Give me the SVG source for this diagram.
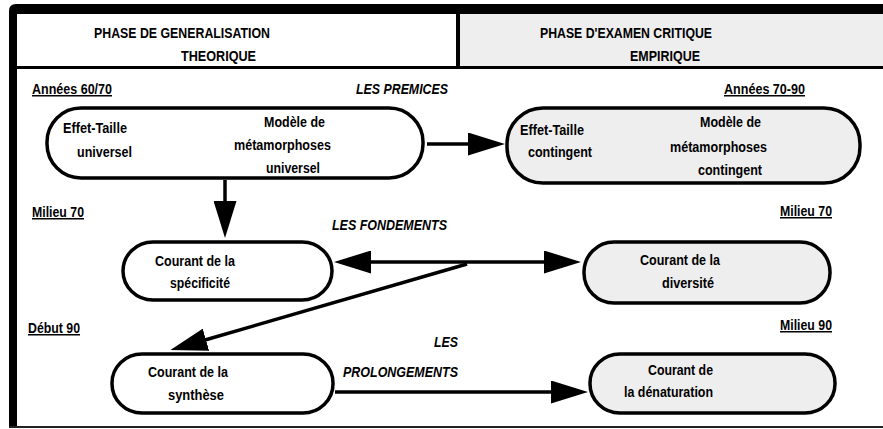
<svg xmlns="http://www.w3.org/2000/svg" width="883" height="429" viewBox="0 0 883 429">
<style>
text{font-family:"Liberation Sans",Arial,sans-serif;font-weight:bold;font-size:15px;fill:#000}
.u{text-decoration:underline}
.i{font-style:italic}
.n{stroke:#000;stroke-width:3.5}
.w{fill:#fff}
.g{fill:#eeeeee}
.c{stroke:#000;stroke-width:3.5;fill:none}
</style>
<defs>
<marker id="ah" viewBox="0 0 37 23" refX="1" refY="11.5" markerWidth="37" markerHeight="23" markerUnits="userSpaceOnUse" orient="auto-start-reverse">
<path d="M0,0 L37,11.5 L0,23 Z" fill="#000"/>
</marker>
</defs>
<rect x="0" y="0" width="883" height="429" fill="#fff"/>
<g id="frame">
<rect x="17" y="14" width="441" height="53" fill="#fff"/>
<rect x="458" y="14" width="425" height="53" fill="#eeeeee"/>
<path d="M9,427 L9,11 Q9,4 16,4 L883,4 L883,14 L17,14 L17,427 Z" fill="#000"/>
<rect x="456" y="14" width="4" height="53" fill="#000"/>
<rect x="17" y="66" width="866" height="3" fill="#000"/>
<rect x="9" y="426" width="874" height="2" fill="#222"/>
<text x="94" y="38" textLength="176" lengthAdjust="spacingAndGlyphs">PHASE DE GENERALISATION</text>
<text x="181" y="61" textLength="75" lengthAdjust="spacingAndGlyphs">THEORIQUE</text>
<text x="540" y="38" textLength="172" lengthAdjust="spacingAndGlyphs">PHASE D'EXAMEN CRITIQUE</text>
<text x="630" y="61" textLength="70" lengthAdjust="spacingAndGlyphs">EMPIRIQUE</text>
</g>
<g id="labels">
<text class="u" x="32" y="94" textLength="80" lengthAdjust="spacingAndGlyphs">Années 60/70</text>
<text class="u" x="724" y="94" textLength="81" lengthAdjust="spacingAndGlyphs">Années 70-90</text>
<text class="u" x="32" y="217" textLength="52" lengthAdjust="spacingAndGlyphs">Milieu 70</text>
<text class="u" x="780" y="216" textLength="52" lengthAdjust="spacingAndGlyphs">Milieu 70</text>
<text class="u" x="28" y="333" textLength="52" lengthAdjust="spacingAndGlyphs">Début 90</text>
<text class="u" x="780" y="330" textLength="52" lengthAdjust="spacingAndGlyphs">Milieu 90</text>
<text class="i" x="356" y="94" textLength="92" lengthAdjust="spacingAndGlyphs">LES PREMICES</text>
<text class="i" x="332" y="230" textLength="115" lengthAdjust="spacingAndGlyphs">LES FONDEMENTS</text>
<text class="i" x="434" y="347" textLength="24" lengthAdjust="spacingAndGlyphs">LES</text>
<text class="i" x="343" y="377" textLength="115" lengthAdjust="spacingAndGlyphs">PROLONGEMENTS</text>
</g>
<g id="connectors">
<line class="c" x1="225" y1="180" x2="225" y2="202" marker-end="url(#ah)"/>
<line class="c" x1="427" y1="144" x2="469" y2="144" marker-end="url(#ah)"/>
<line class="c" x1="370" y1="262" x2="545" y2="262" marker-start="url(#ah)" marker-end="url(#ah)"/>
<line class="c" x1="467" y1="264" x2="205" y2="340" marker-end="url(#ah)"/>
<line class="c" x1="335" y1="392" x2="552" y2="392" marker-end="url(#ah)"/>
</g>
<g id="node-universel">
<rect class="n w" x="47" y="108" width="376" height="70" rx="34" ry="34"/>
<text x="63" y="133" textLength="64" lengthAdjust="spacingAndGlyphs">Effet-Taille</text>
<text x="77" y="157" textLength="55" lengthAdjust="spacingAndGlyphs">universel</text>
<text x="264" y="127" textLength="61" lengthAdjust="spacingAndGlyphs">Modèle de</text>
<text x="234" y="150" textLength="97" lengthAdjust="spacingAndGlyphs">métamorphoses</text>
<text x="266" y="173" textLength="54" lengthAdjust="spacingAndGlyphs">universel</text>
</g>
<g id="node-contingent">
<rect class="n g" x="507" y="108" width="353" height="75" rx="36" ry="36"/>
<text x="520" y="135" textLength="64" lengthAdjust="spacingAndGlyphs">Effet-Taille</text>
<text x="528" y="157" textLength="64" lengthAdjust="spacingAndGlyphs">contingent</text>
<text x="700" y="127" textLength="61" lengthAdjust="spacingAndGlyphs">Modèle de</text>
<text x="670" y="152" textLength="97" lengthAdjust="spacingAndGlyphs">métamorphoses</text>
<text x="698" y="175" textLength="64" lengthAdjust="spacingAndGlyphs">contingent</text>
</g>
<g id="node-specificite">
<rect class="n w" x="123" y="242" width="209" height="58" rx="30" ry="29"/>
<text x="155" y="266" textLength="80" lengthAdjust="spacingAndGlyphs">Courant de la</text>
<text x="170" y="288" textLength="60" lengthAdjust="spacingAndGlyphs">spécificité</text>
</g>
<g id="node-diversite">
<rect class="n g" x="584" y="242" width="246" height="61" rx="30" ry="30"/>
<text x="640" y="265" textLength="80" lengthAdjust="spacingAndGlyphs">Courant de la</text>
<text x="662" y="288" textLength="52" lengthAdjust="spacingAndGlyphs">diversité</text>
</g>
<g id="node-synthese">
<rect class="n w" x="112" y="354" width="221" height="59" rx="30" ry="29"/>
<text x="148" y="377" textLength="80" lengthAdjust="spacingAndGlyphs">Courant de la</text>
<text x="168" y="400" textLength="56" lengthAdjust="spacingAndGlyphs">synthèse</text>
</g>
<g id="node-denaturation">
<rect class="n g" x="590" y="354" width="245" height="59" rx="30" ry="29"/>
<text x="648" y="375" textLength="65" lengthAdjust="spacingAndGlyphs">Courant de</text>
<text x="624" y="397" textLength="89" lengthAdjust="spacingAndGlyphs">la dénaturation</text>
</g>
</svg>
